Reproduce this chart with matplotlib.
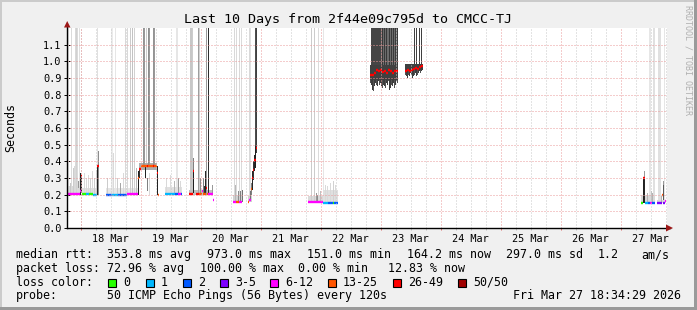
import numpy as np
import matplotlib.pyplot as plt
from matplotlib.patches import Rectangle, Polygon

plt.rcParams['font.family'] = 'DejaVu Sans Mono'

W, H = 697, 310

# graph window: last 10 days up to the timestamp printed in the legend
t_end = np.datetime64('2026-03-27T18:34:29')
t_start = t_end - np.timedelta64(10, 'D')
col_h = 0.4  # one pixel column = 24 min

loss_labels = ['0', '1', '2', '3-5', '6-12', '13-25', '26-49', '50/50']
loss_colors = ['#26ff00', '#00b8ff', '#0059ff', '#7e00ff', '#ff00ff',
               '#ff5500', '#ff0000', '#a00000']

# median rtt runs: start (h), end (h), seconds, loss class
med_t0 = [0.0, 5.2, 5.6, 6.0, 7.6, 8.8, 10.4, 12.0,
          15.6, 18.0, 20.4, 24.0,
          28.4, 28.8, 29.6, 32.0, 32.4, 34.4, 34.8, 36.0, 36.4,
          39.2, 43.2, 44.4, 45.6,
          48.8, 50.4, 51.6, 52.8, 54.0, 54.4, 55.6, 56.0, 56.4, 58.4,
          66.4, 67.6, 68.8,
          72.4, 72.8, 73.6, 74.0, 74.4, 74.8, 75.6,
          96.4, 102.4, 104.4, 106.4, 106.8,
          121.2, 122.0, 122.8, 123.6, 124.4, 125.2, 126.0, 126.8, 127.6, 128.4, 129.2, 130.0, 130.8, 131.6,
          135.2, 136.0, 136.8, 137.6, 138.4, 139.2, 140.0, 140.8, 141.6,
          229.6, 230.4, 231.2, 232.4, 233.2, 234.0,
          236.0, 238.0, 238.4, 239.2]
med_t1 = [5.2, 5.6, 6.0, 7.6, 8.8, 10.4, 12.0, 12.6,
          18.0, 20.4, 24.0, 28.4,
          28.8, 29.6, 32.0, 32.4, 34.4, 34.8, 36.0, 36.4, 36.8,
          43.2, 44.4, 45.6, 46.0,
          50.4, 50.8, 52.8, 54.0, 54.4, 55.6, 56.0, 56.4, 58.4, 58.8,
          67.6, 68.8, 70.0,
          72.8, 73.6, 74.0, 74.4, 74.8, 75.6, 76.0,
          102.4, 104.4, 106.4, 106.8, 108.4,
          122.0, 122.8, 123.6, 124.4, 125.2, 126.0, 126.8, 127.6, 128.4, 129.2, 130.0, 130.8, 131.6, 132.4,
          136.0, 136.8, 137.6, 138.4, 139.2, 140.0, 140.8, 141.6, 142.4,
          230.4, 231.2, 232.4, 233.2, 234.0, 235.2,
          238.0, 238.4, 239.2, 239.6]
med_s = [0.204, 0.225, 0.31, 0.205, 0.205, 0.205, 0.200, 0.37,
         0.200, 0.200, 0.200, 0.204,
         0.30, 0.355, 0.374, 0.374, 0.374, 0.374, 0.374, 0.33, 0.200,
         0.202, 0.202, 0.202, 0.202,
         0.205, 0.34, 0.205, 0.205, 0.22, 0.205, 0.24, 0.205, 0.205, 0.168,
         0.158, 0.158, 0.158,
         0.158, 0.17, 0.235, 0.30, 0.35, 0.41, 0.48,
         0.158, 0.150, 0.150, 0.150, 0.150,
         0.915, 0.92, 0.93, 0.95, 0.945, 0.95, 0.935, 0.94, 0.93, 0.95, 0.94, 0.93, 0.94, 0.945,
         0.945, 0.95, 0.945, 0.95, 0.955, 0.96, 0.955, 0.965, 0.97,
         0.152, 0.298, 0.152, 0.152, 0.152, 0.152,
         0.152, 0.20, 0.152, 0.16]
med_loss = [4, 4, 6, 0, 1, 0, 1, 6,
            2, 1, 2, 4,
            5, 6, 5, 6, 5, 6, 5, 6, 5,
            1, 2, 4, 2,
            6, 6, 6, 5, 4, 5, 6, 5, 4, 4,
            4, 5, 4,
            5, 4, 5, 6, 6, 6, 6,
            4, 1, 2, 0, 2,
            6, 6, 6, 6, 6, 6, 6, 6, 6, 6, 6, 6, 6, 6,
            6, 6, 6, 6, 6, 6, 6, 6, 6,
            0, 6, 1, 2, 4, 2,
            3, 5, 3, 4]

# smoke bands: start (h), end (h), low (s), high (s), grey level
band_t0 = [0.0, 6.0, 15.6, 28.8, 39.2, 48.8, 66.4, 72.4, 96.4, 102.4,
           121.2, 121.6, 125.6, 135.2, 229.6, 236.0]
band_t1 = [5.2, 12.0, 28.4, 36.0, 46.0, 58.4, 70.0, 74.0, 102.4, 108.4,
           132.4, 125.6, 132.4, 142.4, 235.2, 239.6]
band_lo = [0.20, 0.20, 0.20, 0.35, 0.20, 0.20, 0.155, 0.155, 0.155, 0.15,
           0.89, 0.98, 0.98, 0.95, 0.152, 0.152]
band_hi = [0.25, 0.24, 0.24, 0.39, 0.245, 0.23, 0.20, 0.19, 0.19, 0.23,
           0.98, 1.20, 1.20, 0.985, 0.20, 0.17]
band_grey = [0.85, 0.88, 0.90, 0.68, 0.88, 0.75, 0.82, 0.82, 0.85, 0.88,
             0.25, 0.27, 0.42, 0.25, 0.85, 0.85]

# ragged lower edge of the two ~0.9 s clusters, one value per pixel column
clusterA_t0 = 121.2
clusterA_lo = [0.87, 0.86, 0.83, 0.82, 0.85, 0.87, 0.86, 0.85, 0.88, 0.86,
               0.87, 0.85, 0.84, 0.86, 0.85, 0.84, 0.87, 0.86, 0.88, 0.83,
               0.84, 0.86, 0.85, 0.87, 0.84, 0.86, 0.88, 0.87]
clusterB_t0 = 135.2
clusterB_lo = [0.92, 0.91, 0.90, 0.92, 0.91, 0.93, 0.92, 0.90, 0.91,
               0.92, 0.93, 0.91, 0.92, 0.93, 0.94, 0.93, 0.94, 0.95]

# single smoke columns: time (h), low (s), high (s), grey level
spike_t = [0.4, 1.0, 1.6, 2.2, 2.8, 3.2, 3.6, 4.0, 4.4, 4.8, 5.2, 5.6,
           6.8, 7.6, 8.4, 9.2, 10.0, 10.8, 11.6, 12.0, 12.0, 12.4,
           16.0, 17.6, 18.0, 18.4, 19.2, 20.0, 21.2, 22.4, 23.2, 24.0, 25.2, 26.0, 26.8, 27.6,
           28.4, 28.8, 30.4, 30.8, 31.2, 31.6, 32.0, 32.4, 32.8, 32.8, 34.4, 34.8, 36.0,
           39.6, 41.2, 42.8, 43.6, 44.0, 44.4, 45.2,
           49.2, 49.6, 50.0, 50.4, 50.4, 52.4, 52.8, 53.2, 54.4, 54.8, 55.2, 55.6, 56.4, 58.0,
           66.8, 67.2, 67.6, 68.4, 68.8, 69.2, 69.6, 70.0,
           72.8, 73.2, 73.2, 73.6, 74.0, 74.4, 74.8, 75.2, 75.2, 75.6,
           97.6, 98.8, 99.6, 100.0, 100.4, 101.2, 102.4, 103.2, 104.0, 105.2, 106.4, 107.2,
           126.0, 126.8, 127.6, 128.8, 129.6, 130.4, 131.2, 132.0,
           138.8, 139.6, 140.8, 141.6,
           230.4, 230.8, 230.8, 232.0, 232.8, 233.2, 233.6, 234.0, 234.4, 234.8,
           236.4, 236.8, 237.2, 237.6, 238.4, 238.4, 238.8]
spike_lo = [0.20, 0.20, 0.20, 0.20, 0.20, 0.20, 0.20, 0.20, 0.24, 0.20, 0.20, 0.21,
            0.20, 0.20, 0.20, 0.20, 0.20, 0.20, 0.20, 0.37, 0.20, 0.20,
            0.20, 0.20, 0.20, 0.20, 0.20, 0.20, 0.20, 0.20, 0.20, 0.20, 0.20, 0.20, 0.20, 0.20,
            0.20, 0.30, 0.37, 0.37, 0.30, 0.38, 0.22, 0.37, 0.37, 0.20, 0.37, 0.37, 0.20,
            0.20, 0.20, 0.20, 0.20, 0.20, 0.20, 0.20,
            0.20, 0.20, 0.20, 0.21, 0.34, 0.20, 0.20, 0.20, 0.20, 0.20, 0.21, 0.20, 0.20, 0.20,
            0.155, 0.155, 0.155, 0.155, 0.155, 0.155, 0.155, 0.155,
            0.16, 0.16, 0.16, 0.20, 0.23, 0.29, 0.34, 0.36, 0.49, 0.45,
            0.158, 0.158, 0.158, 0.158, 0.158, 0.158, 0.15, 0.15, 0.15, 0.15, 0.15, 0.15,
            0.98, 0.98, 0.98, 0.98, 0.98, 0.98, 0.98, 0.98,
            0.98, 0.98, 0.98, 0.98,
            0.152, 0.152, 0.30, 0.152, 0.16, 0.16, 0.152, 0.152, 0.16, 0.16,
            0.16, 0.16, 0.16, 0.152, 0.17, 0.26, 0.16]
spike_hi = [1.20, 0.27, 1.20, 0.36, 0.37, 1.20, 1.20, 1.20, 0.28, 1.20, 0.33, 0.31,
            0.33, 0.30, 0.32, 0.30, 0.34, 0.30, 0.35, 1.20, 0.37, 0.46,
            0.30, 1.20, 1.20, 0.45, 1.20, 0.30, 0.27, 0.33, 1.20, 1.20, 1.20, 1.20, 1.20, 0.36,
            0.34, 0.36, 1.20, 1.20, 0.37, 1.20, 0.30, 1.20, 1.20, 0.33, 1.20, 1.20, 0.37,
            0.30, 0.32, 0.28, 1.20, 1.20, 0.30, 0.28,
            1.20, 1.20, 1.20, 0.34, 0.42, 1.20, 1.20, 0.30, 0.30, 0.25, 0.34, 1.20, 1.20, 0.26,
            1.20, 0.26, 1.20, 0.22, 1.20, 0.22, 1.20, 0.23,
            1.20, 1.20, 0.22, 0.27, 0.34, 0.40, 0.44, 0.49, 1.20, 1.20,
            1.20, 1.20, 0.21, 0.20, 1.20, 0.22, 1.20, 0.26, 0.25, 0.27, 0.28, 0.26,
            1.20, 1.20, 1.20, 1.20, 1.20, 1.20, 1.20, 1.20,
            1.20, 1.20, 1.20, 1.20,
            0.30, 0.30, 0.34, 0.21, 1.20, 1.20, 0.22, 0.21, 1.20, 1.20,
            1.20, 1.20, 1.20, 0.19, 0.26, 0.28, 1.20]
spike_grey = [0.90, 0.78, 0.86, 0.80, 0.85, 0.85, 0.82, 0.86, 0.60, 0.88, 0.13, 0.20,
              0.85, 0.85, 0.85, 0.82, 0.85, 0.80, 0.82, 0.88, 0.13, 0.55,
              0.80, 0.92, 0.92, 0.85, 0.90, 0.80, 0.65, 0.85, 0.85, 0.85, 0.80, 0.76, 0.82, 0.72,
              0.13, 0.20, 0.58, 0.60, 0.13, 0.80, 0.50, 0.55, 0.60, 0.85, 0.58, 0.60, 0.13,
              0.85, 0.86, 0.72, 0.90, 0.90, 0.60, 0.85,
              0.78, 0.78, 0.80, 0.13, 0.50, 0.62, 0.82, 0.55, 0.50, 0.20, 0.15, 0.60, 0.18, 0.60,
              0.85, 0.72, 0.86, 0.55, 0.85, 0.50, 0.86, 0.45,
              0.85, 0.88, 0.45, 0.50, 0.15, 0.20, 0.15, 0.13, 0.30, 0.25,
              0.80, 0.80, 0.60, 0.55, 0.86, 0.75, 0.90, 0.85, 0.85, 0.85, 0.82, 0.85,
              0.22, 0.22, 0.22, 0.22, 0.22, 0.22, 0.22, 0.22,
              0.25, 0.25, 0.25, 0.25,
              0.13, 0.15, 0.60, 0.70, 0.90, 0.90, 0.75, 0.70, 0.88, 0.88,
              0.88, 0.88, 0.88, 0.70, 0.35, 0.60, 0.90]


def fx(x):
    return x / W


def fy(y):
    return 1 - y / H


fig = plt.figure(figsize=(W / 100, H / 100), dpi=100)
fig.patch.set_facecolor('#f0f0f0')
ax = fig.add_axes([fx(67), fy(228), 600 / W, 200 / H])
ax.set_facecolor('white')
ax.set_xlim(0, 240)
ax.set_ylim(0, 1.2)
for s in ax.spines.values():
    s.set_visible(False)

# collect all smoke rectangles
rt0 = list(band_t0) + list(spike_t)
rw = [b - a for a, b in zip(band_t0, band_t1)] + [col_h] * len(spike_t)
rlo = list(band_lo) + list(spike_lo)
rhi = list(band_hi) + list(spike_hi)
rg = list(band_grey) + list(spike_grey)
for t0, lows, top in [(clusterA_t0, clusterA_lo, 0.90), (clusterB_t0, clusterB_lo, 0.96)]:
    for k, lo in enumerate(lows):
        rt0.append(t0 + k * col_h)
        rw.append(col_h)
        rlo.append(lo)
        rhi.append(top)
        rg.append(0.24 if k % 3 else 0.32)

# lighter shades first, darker ones over them
for i in np.argsort(-np.array(rg), kind='stable'):
    ax.bar(rt0[i], rhi[i] - rlo[i], width=rw[i], bottom=rlo[i], align='edge',
           color=str(rg[i]), linewidth=0, antialiased=False, zorder=2)

# median rtt coloured by loss
ax.hlines(med_s, med_t0, med_t1, colors=[loss_colors[k] for k in med_loss],
          lw=1.7, zorder=3)

# grid
day0 = (np.datetime64('2026-03-18T00:00:00') - t_start) / np.timedelta64(1, 'h')
midnights = day0 + 24 * np.arange(10)
quarters = [h for h in day0 - 24 + 6 * np.arange(45)
            if 0 < h < 240 and (h - day0) % 24 != 0]
dots = (0, (1, 2))
ax.vlines(quarters, 0, 1.2, colors='#c8c8c8', linestyles=[dots], lw=0.72, zorder=4)
ax.vlines(midnights, 0, 1.2, colors='#eb9a9a', linestyles=[dots], lw=0.72, zorder=4)
ax.hlines(np.arange(1, 12) * 0.1, 0, 240, colors='#eb9a9a', linestyles=[dots],
          lw=0.72, zorder=4)
ax.vlines(quarters, -0.012, 0, colors='#c0c0c0', lw=0.72, clip_on=False)
ax.vlines(midnights, -0.014, 0, colors='#e07070', lw=0.72, clip_on=False)

# axes with arrows
ax.plot([0, 0], [0, 1.21], color='black', lw=1.0, clip_on=False, zorder=5)
ax.plot([0, 241], [0, 0], color='black', lw=1.0, clip_on=False, zorder=5)
arrow_c = '#9c1818'
fig.add_artist(Polygon([(fx(64), fy(27.5)), (fx(70.5), fy(27.5)), (fx(67.2), fy(21))],
                       closed=True, color=arrow_c, lw=0))
fig.add_artist(Polygon([(fx(666), fy(224.5)), (fx(666), fy(231.5)), (fx(673), fy(228))],
                       closed=True, color=arrow_c, lw=0))

ax.set_yticks(np.arange(12) * 0.1, [f'{v:.1f}' for v in np.arange(12) * 0.1])
ax.tick_params(axis='y', direction='inout', length=4, width=0.7, labelsize=7.4, pad=2)
noons = day0 + 12 + 24 * np.arange(10)
day_labels = [f'{d} Mar' for d in range(18, 28)]
ax.set_xticks(noons, day_labels)
ax.tick_params(axis='x', length=0, labelsize=7.4, pad=4)

# titles
fig.text(fx(348), fy(19), 'Last 10 Days from 2f44e09c795d to CMCC-TJ',
         ha='center', va='center', fontsize=9.6)
fig.text(fx(11), fy(128), 'Seconds', rotation=90, ha='center', va='center', fontsize=8.4)
fig.text(fx(688), fy(5), 'RRDTOOL / TOBI OETIKER', rotation=270, ha='center',
         va='top', fontsize=6.0, color='#b0b0b0')


def legend_text(x, y, s):
    fig.text(fx(x), fy(y), s, ha='left', va='baseline', fontsize=8.4)


legend_text(16, 258, 'median rtt:')
legend_text(107, 258, '353.8 ms avg')
legend_text(207, 258, '973.0 ms max')
legend_text(307, 258, '151.0 ms min')
legend_text(407.5, 258, '164.2 ms now')
legend_text(506.5, 258, '297.0 ms sd')
legend_text(597.5, 258, '1.2')
legend_text(641.5, 258, 'am/s')

legend_text(16, 271.8, 'packet loss:')
legend_text(107, 271.8, '72.96 % avg')
legend_text(200, 271.8, '100.00 % max')
legend_text(298, 271.8, '0.00 % min')
legend_text(388, 271.8, '12.83 % now')

legend_text(16, 285.6, 'loss color:')
box_x = [108, 146, 183, 220, 270, 328, 393, 458]
for bx, c, lab in zip(box_x, loss_colors, loss_labels):
    fig.add_artist(Rectangle((fx(bx), fy(287)), 8 / W, 8 / H, facecolor=c,
                             edgecolor='black', lw=0.8, transform=fig.transFigure))
    legend_text(bx + 15, 285.6, lab)

legend_text(16, 299.4, 'probe:')
legend_text(107, 299.4, '50 ICMP Echo Pings (56 Bytes) every 120s')
legend_text(513, 299.4, 'Fri Mar 27 18:34:29 2026')

# image frame (light top/left, dark bottom/right)
fig.add_artist(Rectangle((0, fy(2)), 1, 2 / H, color='#cbcbcb', lw=0,
                         transform=fig.transFigure))
fig.add_artist(Rectangle((0, 0), 2 / W, 1, color='#cbcbcb', lw=0,
                         transform=fig.transFigure))
fig.add_artist(Rectangle((0, 0), 1, 3 / H, color='#9a9a9a', lw=0,
                         transform=fig.transFigure))
fig.add_artist(Rectangle((fx(694), 0), 3 / W, 1, color='#9a9a9a', lw=0,
                         transform=fig.transFigure))

fig.savefig('out.png', dpi=100, facecolor=fig.get_facecolor())
